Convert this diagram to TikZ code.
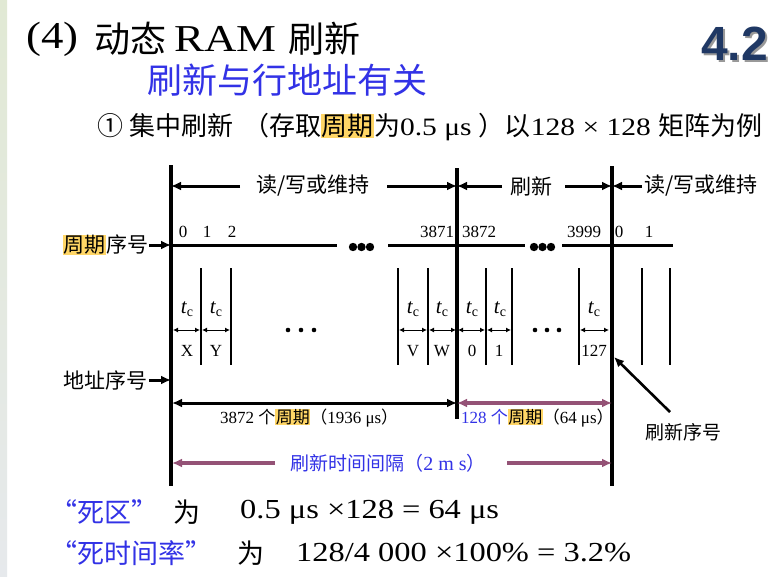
\documentclass[tikz,border=0pt]{standalone}
\usepackage{fontspec}
\usepackage{graphicx}
\setmainfont{Liberation Serif}
\newfontfamily\wide{Liberation Serif}[FakeStretch=1.18]
\newfontfamily\cjk{Noto Sans CJK SC}
\newfontfamily\sansb{Liberation Sans}
\usetikzlibrary{arrows.meta}
\definecolor{hlc}{RGB}{255,214,102}
\definecolor{pur}{RGB}{148,82,118}
\definecolor{blu}{RGB}{50,50,230}
\definecolor{navy}{RGB}{31,56,100}
\newcommand{\hlt}[1]{{\setlength{\fboxsep}{0.4pt}\colorbox{hlc}{#1}}}
\newcommand{\fs}[1]{\fontsize{#1}{#1}\selectfont}
\newcommand{\tcl}{{\fs{21}\itshape t}\raisebox{-3pt}{\fs{14}c}}
\begin{document}
\begin{tikzpicture}[x=1pt,y=-1pt,
  txt/.style={inner sep=0pt},
  num/.style={inner sep=0pt,font=\fs{17}},
  vbar/.style={line width=3.4pt},
  hbar/.style={line width=3pt},
  cell/.style={line width=1.6pt},
  bigarr/.style={line width=3pt,-{Latex[length=10pt,width=9pt]}},
  bigdarr/.style={line width=3pt,{Latex[length=10pt,width=9pt]}-{Latex[length=10pt,width=9pt]}},
  purdarr/.style={line width=3.4pt,color=pur,{Latex[length=10pt,width=9pt]}-{Latex[length=10pt,width=9pt]}},
  purarr/.style={line width=3.4pt,color=pur,-{Latex[length=10pt,width=9pt]}},
  smarr/.style={line width=1pt,{Latex[length=5pt,width=5pt]}-{Latex[length=5pt,width=5pt]}},
]
\useasboundingbox (0,0) rectangle (782,576);
\fill[white] (0,0) rectangle (782,576);
\shade[top color={rgb,255:red,225;green,233;blue,212},bottom color={rgb,255:red,230;green,233;blue,236}] (0,0) rectangle (7,576);

% ---------- title ----------
\node[txt,anchor=west] (t1) at (26,39) {\wide\fs{38}(4)};
\node[txt,anchor=west] (t2) at (94,39) {\cjk\fs{36}动态};
\node[txt,anchor=west] (t3) at (174,39) {\wide\fs{38}RAM};
\node[txt,anchor=west] (t4) at (288,39) {\cjk\fs{36}刷新};
\node[txt,anchor=east,text=navy] (n42) at (768,45) {\sansb\bfseries\fs{48}\rlap{\hspace{2pt}\raisebox{-2pt}{\textcolor{black!40}{4.2}}}4.2};
\node[txt,anchor=west,text=blu] (sub) at (147,80) {\cjk\fs{35}刷新与行地址有关};
\node[txt,anchor=west] (row) at (97,127) {\cjk\fs{26}①\hspace{6pt}集中刷新\hspace{10pt}（存取\hlt{周期}为{\wide\fs{25}0.5 μs }）以{\wide\fs{25}128 × 128 }矩阵为例};

% ---------- main bars ----------
\coordinate (v1t) at (171,165); \coordinate (v1b) at (171,486);
\coordinate (v2t) at (457,168); \coordinate (v2b) at (457,419);
\coordinate (v3t) at (612,166); \coordinate (v3b) at (612,486);
\draw[vbar] (v1t) -- (v1b);
\draw[vbar] (v2t) -- (v2b);
\draw[vbar] (v3t) -- (v3b);

% ---------- top phase arrows ----------
\coordinate (a1) at (171,186); \coordinate (a2) at (457,186); \coordinate (a3) at (612,186);
\node[txt] (rw1) at (313,186) {\cjk\fs{21}读/写或维持};
\coordinate (rw1l) at (240,186); \coordinate (rw1r) at (387,186);
\draw[bigarr] (rw1l) -- (a1);
\draw[bigarr] (rw1r) -- (a2);
\node[txt] (sx) at (531,186) {\cjk\fs{21}刷新};
\coordinate (sxl) at (502,186); \coordinate (sxr) at (565,186);
\draw[bigarr] (sxl) -- (a2);
\draw[bigarr] (sxr) -- (a3);
\node[txt] (rw2) at (701,186) {\cjk\fs{21}读/写或维持};
\coordinate (rw2l) at (642,186);
\draw[bigarr] (rw2l) -- (a3);

% ---------- cycle number line ----------
\node[txt,anchor=west] (zq) at (63,245) {\cjk\fs{21}\hlt{周期}序号};
\coordinate (zqa) at (149,245); \coordinate (h0) at (171,245);
\draw[bigarr] (zqa) -- (h0);
\coordinate (h1) at (337,245); \coordinate (h2) at (388,245);
\coordinate (h3) at (525,245); \coordinate (h4) at (562,245); \coordinate (h5) at (673,245);
\draw[hbar] (h0) -- (h1);
\draw[hbar] (h2) -- (h3);
\draw[hbar] (h4) -- (h5);
\fill (353,247) circle (4.2pt); \fill (361.5,247) circle (4.2pt); \fill (370,247) circle (4.2pt);
\fill (534,247) circle (4.2pt); \fill (542.5,247) circle (4.2pt); \fill (551,247) circle (4.2pt);

\node[num] (c0) at (183,232) {0};
\node[num] (c1) at (207,232) {1};
\node[num] (c2) at (232,232) {2};
\node[num] (c3871) at (437,232) {3871};
\node[num] (c3872) at (479,232) {3872};
\node[num] (c3999) at (584,232) {3999};
\node[num] (d0) at (619,232) {0};
\node[num] (d1) at (649,232) {1};

% ---------- cells ----------
\foreach \x/\n in {201/k1,231/k2,398/k3,428/k4,486/k5,512/k6,579/k7,642/k8,670/k9}{
  \coordinate (\n t) at (\x,268); \coordinate (\n b) at (\x,365);
  \draw[cell] (\n t) -- (\n b);
}
\coordinate (m1) at (173,330); \coordinate (m2) at (200,330);
\coordinate (m3) at (202,330); \coordinate (m4) at (230,330);
\coordinate (m5) at (399,330); \coordinate (m6) at (427,330);
\coordinate (m7) at (429,330); \coordinate (m8) at (456,330);
\coordinate (m9) at (458,330); \coordinate (m10) at (485,330);
\coordinate (m11) at (487,330); \coordinate (m12) at (511,330);
\coordinate (m13) at (580,330); \coordinate (m14) at (609,330);
\draw[smarr] (m1) -- (m2);
\draw[smarr] (m3) -- (m4);
\draw[smarr] (m5) -- (m6);
\draw[smarr] (m7) -- (m8);
\draw[smarr] (m9) -- (m10);
\draw[smarr] (m11) -- (m12);
\draw[smarr] (m13) -- (m14);

\foreach \x/\n in {187/tc1,216/tc2,413/tc3,442/tc4,472/tc5,500/tc6,594/tc7}{
  \node[txt] (\n) at (\x,309) {\tcl};
}
\node[num] (lX) at (187,351) {X};
\node[num] (lY) at (216,351) {Y};
\node[num] (lV) at (413,351) {V};
\node[num] (lW) at (442,351) {W};
\node[num] (l0) at (472,351) {0};
\node[num] (l1) at (499,351) {1};
\node[num] (l127) at (594,351) {127};
\fill (288,330) circle (2.3pt); \fill (301,330) circle (2.3pt); \fill (314,330) circle (2.3pt);
\fill (535,330) circle (2.3pt); \fill (547,330) circle (2.3pt); \fill (559,330) circle (2.3pt);

% ---------- address ----------
\node[txt,anchor=west] (dz) at (63,380) {\cjk\fs{21}地址序号};
\coordinate (dza) at (149,380); \coordinate (dzb) at (171,380);
\draw[bigarr] (dza) -- (dzb);

% ---------- bottom spans ----------
\coordinate (b1) at (172,403); \coordinate (b2) at (457,403); \coordinate (b3) at (612,403);
\draw[bigdarr] (b1) -- (b2);
\draw[purdarr] (b2) -- (b3);
\node[txt,anchor=west] (s1) at (220,418) {\fs{17}3872 {\cjk 个\hlt{周期}（}1936 μs{\cjk ）}};
\node[txt,anchor=west] (s2) at (461,418) {\fs{17}\textcolor{blu}{128 {\cjk 个}}{\cjk \hlt{周期}（}64 μs{\cjk ）}};

\node[txt,text=blu] (gap) at (388,463) {\cjk\fs{19}刷新时间间隔（{\rmfamily\fs{20}2 m s}）};
\coordinate (g1) at (172,463); \coordinate (g2) at (612,463);
\coordinate (gl) at (275,463); \coordinate (gr) at (507,463);
\draw[purarr] (gl) -- (g1);
\draw[purarr] (gr) -- (g2);

\node[txt,anchor=west] (rxh) at (645,432) {\cjk\fs{19}刷新序号};
\coordinate (ptr) at (670,412); \coordinate (p127) at (614,357);
\draw[line width=2.6pt,-{Latex[length=10pt,width=9pt]}] (ptr) -- (p127);

% ---------- bottom text ----------
\node[txt,anchor=west,text=blu] (q1) at (50,512) {\cjk\fs{27}“死区”};
\node[txt,anchor=west] (w1) at (173,512) {\cjk\fs{27}为};
\node[txt,anchor=west] (f1) at (240,512) {\wide\fs{27.5}0.5 μs ×128 = 64 μs};
\node[txt,anchor=west,text=blu] (q2) at (50,553) {\cjk\fs{27}“死时间率”};
\node[txt,anchor=west] (w2) at (237,553) {\cjk\fs{27}为};
\node[txt,anchor=west] (f2) at (296,553) {\wide\fs{27.5}128/4 000 ×100\% = 3.2\%};
\end{tikzpicture}
\end{document}
